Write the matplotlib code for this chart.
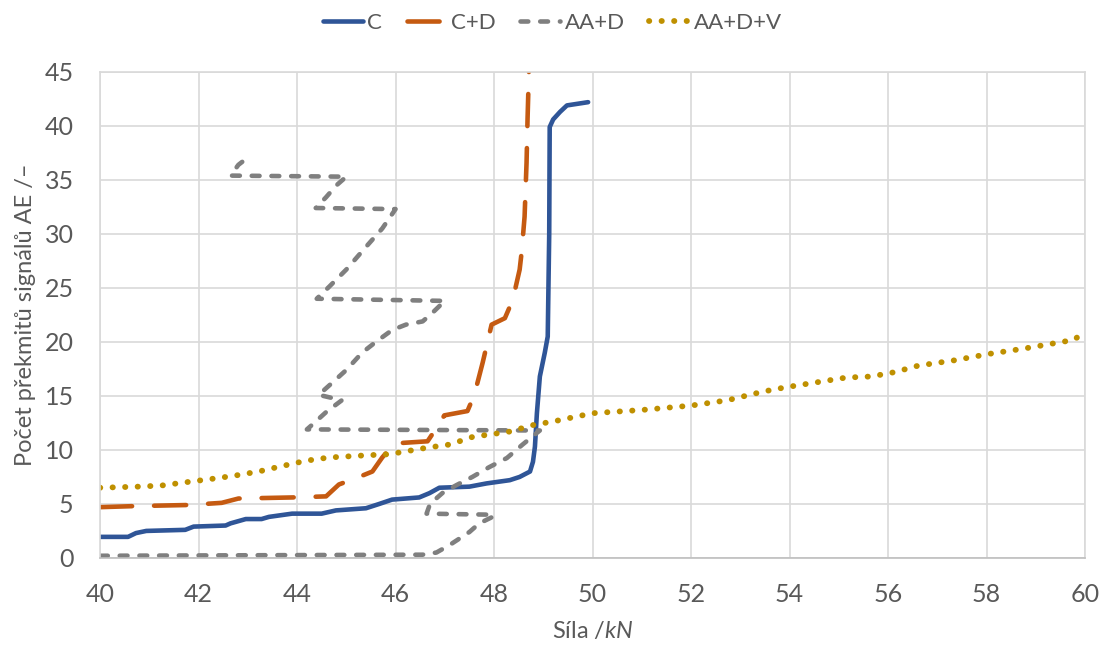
import matplotlib
matplotlib.use("Agg")
import matplotlib.pyplot as plt

c_x = [40, 40.57, 40.73, 40.94, 41.73, 41.9, 42.55, 42.65, 42.96, 43.28, 43.43, 43.9, 44.5, 44.79,
       45.4, 45.67, 45.93, 46.48, 46.69, 46.89, 47.5, 47.85, 48.32, 48.52, 48.73, 48.79, 48.83, 48.87,
       48.93, 49.03, 49.09, 49.12, 49.13, 49.2, 49.34, 49.48, 49.91]
c_y = [1.95, 1.95, 2.3, 2.5, 2.6, 2.9, 3.0, 3.2, 3.6, 3.6, 3.8, 4.1, 4.1, 4.4, 4.6, 5.0, 5.4, 5.6,
       6.0, 6.5, 6.6, 6.9, 7.2, 7.5, 8.0, 8.9, 10.3, 13.4, 16.8, 19.0, 20.5, 30.0, 39.9, 40.6, 41.3,
       41.9, 42.2]

cd_x = [40, 40.71, 41.79, 42.47, 42.81, 43.9, 44.59, 44.85, 45.26, 45.53, 45.73, 45.97, 46.65, 46.9,
        46.99, 47.46, 47.6, 47.77, 47.95, 48.22, 48.38, 48.52, 48.56, 48.62, 48.66, 48.68, 48.72]
cd_y = [4.7, 4.8, 4.9, 5.1, 5.5, 5.6, 5.7, 6.8, 7.5, 8.0, 9.3, 10.6, 10.8, 12.5, 13.2, 13.6, 15.1,
        18.1, 21.6, 22.2, 23.9, 26.7, 28.3, 31.6, 36.6, 40.6, 47]

aad_x = [40.0, 46.55, 46.83, 47.1, 47.5, 47.7, 47.97, 48.0, 46.63, 46.7, 46.95, 47.24, 47.56, 47.9,
         48.26, 48.58, 48.93, 44.2, 44.3, 44.59, 44.91, 44.44, 44.71, 45.0, 45.32, 45.6, 45.93,
         46.21, 46.55, 46.75, 47.0, 44.4, 44.65, 45.0, 45.4, 45.73, 46.0, 44.38, 44.59, 44.8, 45.0,
         42.65, 42.81, 42.98]
aad_y = [0.2, 0.3, 0.5, 1.2, 2.4, 3.2, 3.8, 4.0, 4.1, 5.0, 6.0, 6.75, 7.5, 8.4, 9.25, 10.5, 11.8,
         11.9, 12.3, 13.5, 14.6, 15.1, 16.2, 17.4, 19.0, 20.0, 21.1, 21.6, 21.9, 22.7, 23.8, 24.0,
         25.1, 26.7, 28.8, 30.5, 32.3, 32.4, 33.4, 34.5, 35.3, 35.4, 36.4, 37.0]

aadv_x = [40, 40.77, 41.24, 41.73, 42.24, 42.71, 43.22, 43.69, 44.18, 44.65, 45.4, 45.87, 46.63,
          47.1, 47.56, 48.32, 48.79, 49.27, 50.0, 51.0, 51.99, 52.74, 53.46, 53.92, 55.15, 55.66,
          56.13, 56.61, 57.35, 58.06, 58.78, 59.53, 59.78, 59.94, 60.0]
aadv_y = [6.5, 6.6, 6.7, 7.0, 7.3, 7.6, 8.0, 8.5, 9.0, 9.3, 9.5, 9.6, 10.2, 10.5, 11.2, 11.7, 12.3,
          12.7, 13.4, 13.7, 14.1, 14.6, 15.4, 15.8, 16.7, 16.8, 17.2, 17.8, 18.3, 18.9, 19.4, 20.0,
          20.2, 20.8, 20.4]

plt.rcParams["font.family"] = ["Lato", "DejaVu Sans"]
plt.rcParams["mathtext.fontset"] = "custom"
plt.rcParams["mathtext.it"] = "Lato:italic"
plt.rcParams["mathtext.rm"] = "Lato"
text_col = "#595959"
grid_col = "#D9D9D9"

fig = plt.figure(figsize=(11.05, 6.48), dpi=100)
ax = fig.add_axes([0.0905, 0.139, 0.8915, 0.75])

lw = 3.3
ax.plot(c_x, c_y, color="#2F5597", lw=lw, solid_capstyle="round", label="C")
ax.plot(cd_x, cd_y, color="#C55A11", lw=lw, dashes=(7, 4.8), dash_capstyle="round", label="C+D")
ax.plot(aad_x, aad_y, color="#7F7F7F", lw=lw, dashes=(1.7, 2.6), dash_capstyle="round", label="AA+D")
ax.plot(aadv_x, aadv_y, color="#BF9000", lw=4.2, dashes=(0.05, 2.1), dash_capstyle="round", label="AA+D+V")

ax.set_xlim(40, 60)
ax.set_ylim(0, 45)
ax.set_xticks(range(40, 61, 2))
ax.set_yticks(range(0, 46, 5))
ax.grid(True, color=grid_col, lw=1.2)
ax.set_axisbelow(True)
for s in ax.spines.values():
    s.set_color(grid_col)
    s.set_linewidth(1.2)
ax.spines["bottom"].set_color("#BFBFBF")
ax.tick_params(length=0, labelsize=18, labelcolor=text_col)
ax.tick_params(axis="x", pad=18)
ax.tick_params(axis="y", pad=19)

ax.set_xlabel("Síla /$kN$", fontsize=17, color=text_col, labelpad=10)
ax.set_ylabel("Počet překmitů signálů AE /–", fontsize=17, color=text_col, labelpad=6)

fig.legend(loc="center", bbox_to_anchor=(0.5, 0.965), ncol=4, frameon=False, fontsize=16,
           labelcolor=text_col, handlelength=1.8, handletextpad=0.2, columnspacing=1.1)

fig.savefig("out.png", dpi=100)
